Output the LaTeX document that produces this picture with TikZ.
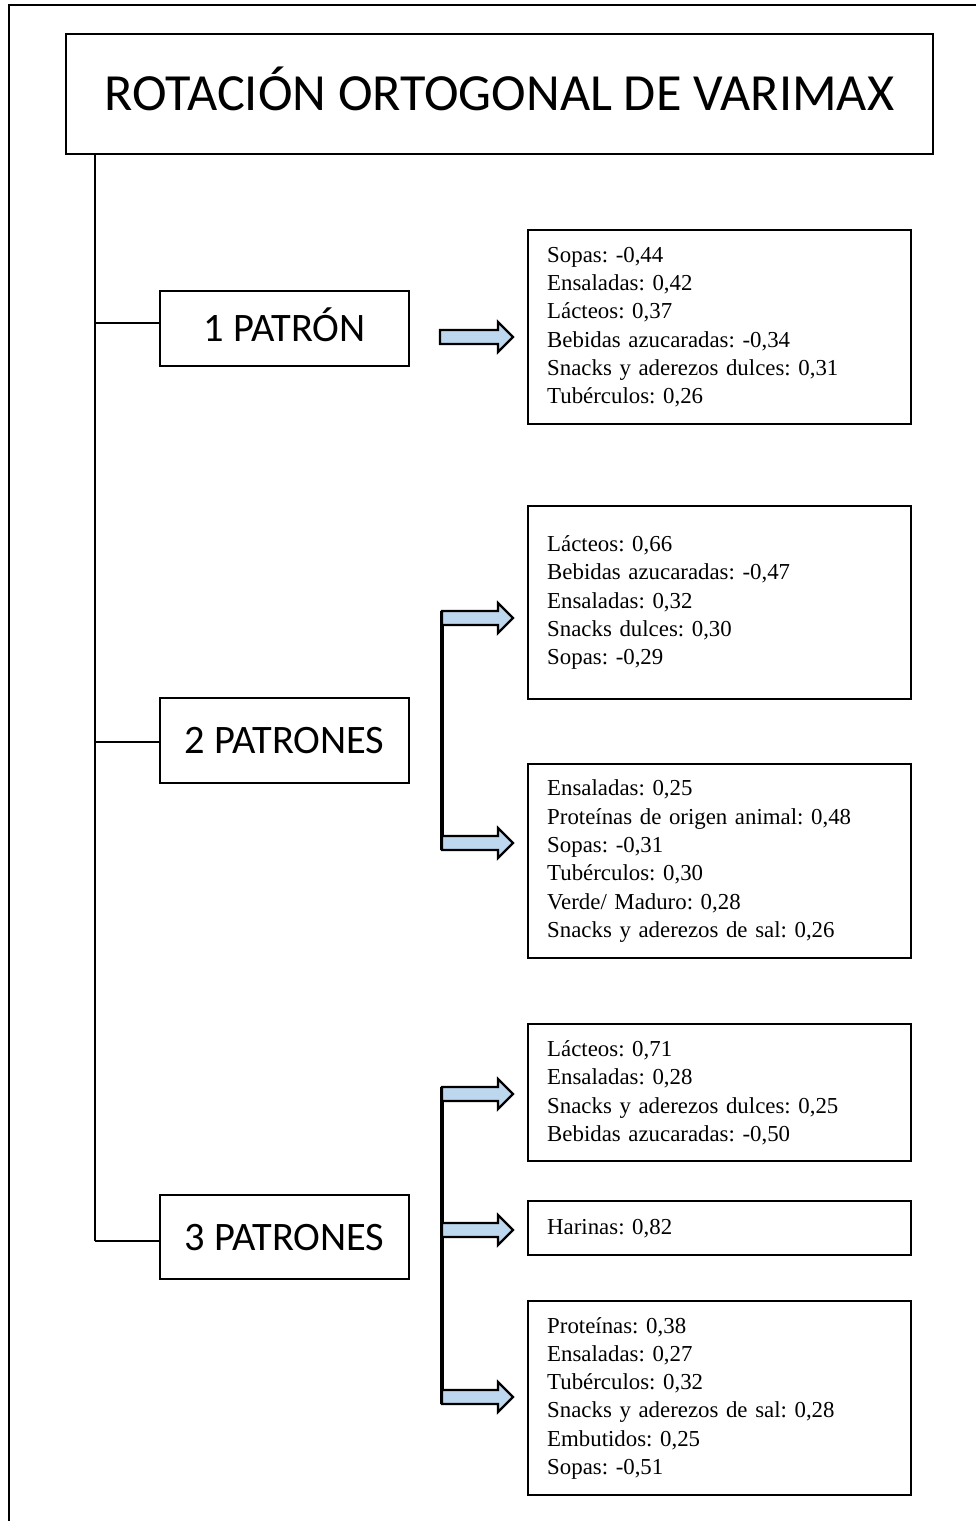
\documentclass[tikz,border=0pt]{standalone}
\usepackage{fontspec}
\setmainfont{Liberation Serif}
\newfontfamily\carlito{Carlito}
\usetikzlibrary{calc}

\definecolor{arrowblue}{RGB}{189,215,238}

\tikzset{
	titlebox/.style={draw, line width=1.4pt, minimum width=17.34cm, minimum height=2.4cm, inner sep=0pt, text height=19.1pt, text depth=0pt, font=\carlito\fontsize{29.7}{34}\selectfont},
	patbox/.style={draw, line width=1.4pt, minimum width=4.98cm, inner sep=0pt, text height=14.8pt, text depth=0pt, font=\carlito\fontsize{23}{27}\selectfont},
	listbox/.style={draw, line width=1.4pt, anchor=north west, text width=6.9cm, inner xsep=0.38cm, inner ysep=0pt, align=left, font=\fontsize{13}{16.1}\selectfont},
	bigarrow/.style={draw, line width=1.3pt, fill=arrowblue, line join=miter},
	trunk/.style={line width=1.4pt},
	bracket/.style={line width=1.8pt},
}

% block arrow from a coordinate to the west side of a box
\newcommand{\blockarrow}[2]{
	\coordinate (tip) at ($(#2.west |- #1)+(-14,0)$);
	\draw[bigarrow] ($(#1)+(0,-7)$) -- ($(tip)+(-15,-7)$) -- ($(tip)+(-15,-15)$) -- (tip)
		-- ($(tip)+(-15,15)$) -- ($(tip)+(-15,7)$) -- ($(#1)+(0,7)$) -- cycle;
}

\begin{document}
\frenchspacing
\begin{tikzpicture}[x=0.02cm, y=-0.02cm]
	\useasboundingbox (0,0) rectangle (976,1521);
	% outer frame
	\draw[trunk] (9,1521) -- (9,5) -- (976,5);

	\node[titlebox] (title) at (499.5,94) {ROTACIÓN ORTOGONAL DE VARIMAX};

	\node[patbox, minimum height=1.5cm] (p1) at (284.5,328.5) {1 PATRÓN};
	\node[patbox, minimum height=1.7cm] (p2) at (284.5,740.5) {2 PATRONES};
	\node[patbox, minimum height=1.68cm] (p3) at (284.5,1237) {3 PATRONES};

	% trunk and branches
	\coordinate (t0) at (95,154);
	\coordinate (t1) at (95,323);
	\coordinate (t2) at (95,742);
	\coordinate (t3) at (95,1241);
	\draw[trunk] (title.south -| t0) -- (t3);
	\draw[trunk] (t1) -- (t1 -| p1.west);
	\draw[trunk] (t2) -- (t2 -| p2.west);
	\draw[trunk] (t3) -- (t3 -| p3.west);

	% loadings
	\node[listbox, minimum height=3.88cm] (boxA) at (527,229) {Sopas: -0,44\\Ensaladas: 0,42\\Lácteos: 0,37\\Bebidas azucaradas: -0,34\\Snacks y aderezos dulces: 0,31\\Tubérculos: 0,26};
	\node[listbox, minimum height=3.86cm] (boxB) at (527,505) {Lácteos: 0,66\\Bebidas azucaradas: -0,47\\Ensaladas: 0,32\\Snacks dulces: 0,30\\Sopas: -0,29};
	\node[listbox, minimum height=3.88cm] (boxC) at (527,763) {Ensaladas: 0,25\\Proteínas de origen animal: 0,48\\Sopas: -0,31\\Tubérculos: 0,30\\Verde/ Maduro: 0,28\\Snacks y aderezos de sal: 0,26};
	\node[listbox, minimum height=2.74cm] (boxD) at (527,1023) {Lácteos: 0,71\\Ensaladas: 0,28\\Snacks y aderezos dulces: 0,25\\Bebidas azucaradas: -0,50};
	\node[listbox, minimum height=1.08cm] (boxE) at (527,1200) {Harinas: 0,82};
	\node[listbox, minimum height=3.88cm] (boxF) at (527,1300) {Proteínas: 0,38\\Ensaladas: 0,27\\Tubérculos: 0,32\\Snacks y aderezos de sal: 0,28\\Embutidos: 0,25\\Sopas: -0,51};

	% arrows
	\coordinate (a1) at (440,337);
	\coordinate (a2) at (442,618);
	\coordinate (a3) at (442,843);
	\coordinate (a4) at (442,1094);
	\coordinate (a5) at (442,1230);
	\coordinate (a6) at (442,1397);
	\draw[bracket] ($(a2)+(0,-7)$) -- ($(a3)+(0,7)$);
	\draw[bracket] ($(a4)+(0,-7)$) -- ($(a6)+(0,7)$);
	\blockarrow{a1}{boxA}
	\blockarrow{a2}{boxB}
	\blockarrow{a3}{boxC}
	\blockarrow{a4}{boxD}
	\blockarrow{a5}{boxE}
	\blockarrow{a6}{boxF}
\end{tikzpicture}
\end{document}
